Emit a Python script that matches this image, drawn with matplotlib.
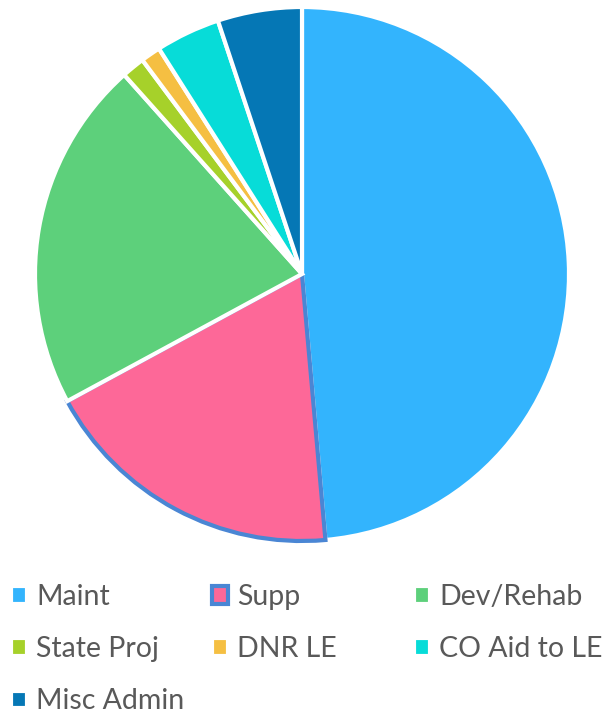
import matplotlib
matplotlib.use("Agg")
import matplotlib.pyplot as plt

labels = ["Maint", "Supp", "Dev/Rehab", "State Proj", "DNR LE", "CO Aid to LE", "Misc Admin"]
values = [48.6, 18.5, 21.3, 1.4, 1.2, 3.9, 5.1]
colors = ["#33b4fd", "#fd6898", "#5dd07b", "#a6d12a", "#f5bf42", "#07dcd8", "#0577b5"]

plt.rcParams['font.family'] = ['Lato', 'DejaVu Sans']

fig = plt.figure(figsize=(6.06, 7.17), dpi=100)
ax = fig.add_axes([35 / 606, (717 - 541) / 717, 534 / 606, 534 / 717])

wedges, _ = ax.pie(values, colors=colors, startangle=90, counterclock=False,
                   radius=1.0, wedgeprops=dict(edgecolor="white", linewidth=3))
# highlighted slice
wedges[1].set_edgecolor("#4a86d4")
wedges[1].set_linewidth(3)
ax.set_xlim(-1, 1)
ax.set_ylim(-1, 1)
ax.set_aspect("equal")
ax.axis("off")

# legend laid out in fixed-width columns, row by row
ncols = 3
col_x = [11, 212, 414]
for c in range(ncols):
    idx = list(range(c, len(labels), ncols))
    fig.legend([wedges[i] for i in idx], [labels[i] for i in idx],
               loc="upper left", bbox_to_anchor=(col_x[c] / 606, 1 - 584 / 717),
               frameon=False, fontsize=20.5, handlelength=0.57, handleheight=0.57,
               handletextpad=0.32, labelspacing=0.92, borderaxespad=0,
               borderpad=0, labelcolor="#595959")

fig.savefig("out.png", dpi=100)
